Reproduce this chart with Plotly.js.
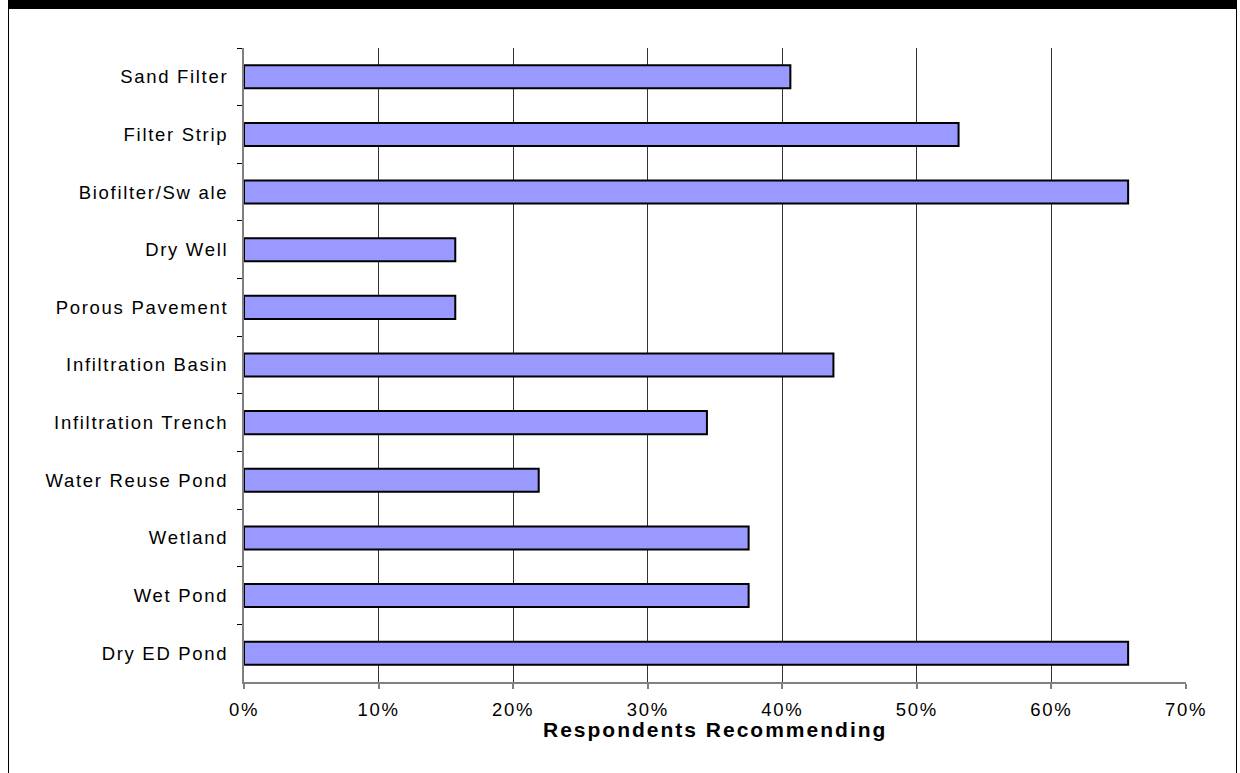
<!DOCTYPE html>
<html>
<head>
<meta charset="utf-8">
<script src="https://cdn.plot.ly/plotly-3.0.1.min.js"></script>
<style>
  html, body { margin: 0; padding: 0; background: #fff; }
  #wrap { position: relative; width: 1240px; height: 773px; overflow: hidden; }
  #chart { position: absolute; left: 0; top: 0; width: 1240px; height: 773px; }
  #frame { position: absolute; left: 8px; top: 0; width: 1227px; height: 800px;
           border-top: 9px solid #000; border-left: 1px solid #000; border-right: 1px solid #000;
           pointer-events: none; }
  .ytick text, .xtick text { letter-spacing: 1.7px; }
  .annotation-text { letter-spacing: 2px; }
</style>
</head>
<body>
<div id="wrap">
  <div id="chart"></div>
  <div id="frame"></div>
</div>
<script>
// Data (percent of respondents recommending)
const categories = [
  "Sand Filter", "Filter Strip", "Biofilter/Sw ale", "Dry Well", "Porous Pavement",
  "Infiltration Basin", "Infiltration Trench", "Water Reuse Pond", "Wetland",
  "Wet Pond", "Dry ED Pond"
];
const percentRecommending = [40.6, 53.1, 65.7, 15.7, 15.7, 43.8, 34.4, 21.9, 37.5, 37.5, 65.7];
const xTickValues = [0, 10, 20, 30, 40, 50, 60, 70];
const xTickLabels = ["0%", "10%", "20%", "30%", "40%", "50%", "60%", "70%"];
const xTitle = "Respondents Recommending";

const font = "Liberation Sans, Arial, sans-serif";

const trace = {
  type: "bar",
  orientation: "h",
  y: categories,
  x: percentRecommending,
  width: 0.4,
  marker: { color: "#9999ff", line: { color: "#000", width: 2 } },
  hoverinfo: "y+x"
};

const layout = {
  width: 1240,
  height: 773,
  margin: { l: 244, r: 54, t: 48, b: 91 },
  paper_bgcolor: "#fff",
  plot_bgcolor: "#fff",
  showlegend: false,
  font: { family: font, color: "#000", size: 18 },
  xaxis: {
    range: [0, 70],
    tickvals: xTickValues,
    ticktext: xTickLabels,
    showgrid: true,
    gridcolor: "#333",
    gridwidth: 1,
    zeroline: false,
    showline: true,
    linecolor: "#808080",
    linewidth: 2,
    ticks: "outside",
    ticklen: 5,
    tickwidth: 2,
    tickcolor: "#808080",
    ticklabelstandoff: 5,
    tickfont: { family: font, size: 18.5, color: "#000" },
    fixedrange: true
  },
  yaxis: {
    type: "category",
    categoryorder: "array",
    categoryarray: categories,
    autorange: "reversed",
    showgrid: false,
    zeroline: false,
    showline: true,
    linecolor: "#808080",
    linewidth: 2,
    ticks: "outside",
    tickson: "boundaries",
    ticklen: 5,
    tickwidth: 1,
    tickcolor: "#000",
    ticklabelstandoff: 10,
    tickfont: { family: font, size: 18.5, color: "#000" },
    fixedrange: true
  },
  annotations: [{
    text: xTitle,
    xref: "paper", yref: "paper",
    x: 0.5, y: -0.0757,
    xanchor: "center", yanchor: "middle",
    showarrow: false,
    font: { family: font, size: 21, color: "#000", weight: "bold" }
  }]
};

Plotly.newPlot("chart", [trace], layout, { displayModeBar: false, staticPlot: true });
</script>
</body>
</html>
